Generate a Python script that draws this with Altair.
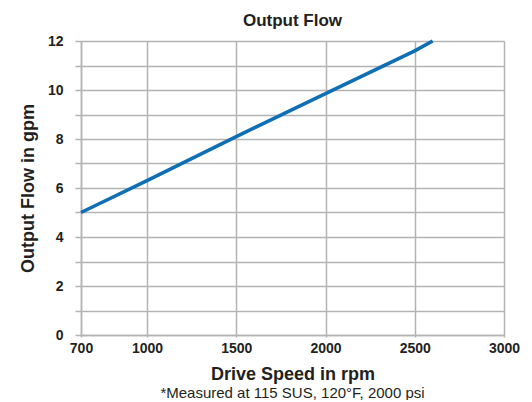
import altair as alt
import pandas as pd

# Data
speed_rpm = [700, 1000, 1500, 2000, 2500, 2600]
flow_gpm = [5.0, 6.3, 8.1, 9.85, 11.6, 12.0]

x_ticks = [700, 1000, 1500, 2000, 2500, 3000]
y_ticks = list(range(0, 13))

title_text = "Output Flow"
x_title = "Drive Speed in rpm"
y_title = "Output Flow in gpm"
note_text = "*Measured at 115 SUS, 120°F, 2000 psi"

df = pd.DataFrame({"speed": speed_rpm, "flow": flow_gpm})

FONT = "Liberation Sans"
TXT = "#231f20"
GRID = "#b3b3b3"
W, H = 423, 294

line = alt.Chart(df).mark_line(color="#0f6fb5", strokeWidth=3.6, strokeCap="butt").encode(
    x=alt.X(
        "speed:Q",
        scale=alt.Scale(domain=[700, 1000, 3000], range=[0, 66, W], nice=False),
        axis=alt.Axis(
            values=x_ticks,
            format="d",
            title=x_title,
            grid=True,
            gridColor=GRID,
            gridWidth=1.5,
            domainColor=GRID,
            domainWidth=1.5,
            tickColor=GRID,
            tickWidth=1.5,
            tickSize=2,
            labelPadding=4,
            labelFont=FONT,
            labelFontSize=14,
            labelFontWeight="bold",
            labelColor=TXT,
            labelFlush=False,
            titleFont=FONT,
            titleFontSize=18,
            titleFontWeight="bold",
            titleColor=TXT,
            titlePadding=10,
        ),
    ),
    y=alt.Y(
        "flow:Q",
        scale=alt.Scale(domain=[0, 12], nice=False),
        axis=alt.Axis(
            values=y_ticks,
            labelExpr="datum.value % 2 == 0 ? datum.label : ''",
            title=y_title,
            grid=True,
            gridColor=GRID,
            gridWidth=1.5,
            domainColor=GRID,
            domainWidth=1.5,
            tickColor=GRID,
            tickWidth=1.5,
            tickSize=6,
            labelPadding=12,
            labelFont=FONT,
            labelFontSize=14,
            labelFontWeight="bold",
            labelColor=TXT,
            labelFlush=False,
            titleFont=FONT,
            titleFontSize=18,
            titleFontWeight="bold",
            titleColor=TXT,
            titlePadding=10,
        ),
    ),
)

note = alt.Chart(pd.DataFrame({"t": [note_text]})).mark_text(
    font=FONT, fontSize=15, color=TXT, baseline="middle", align="center"
).encode(
    x=alt.value(W / 2),
    y=alt.value(H + 58),
    text="t:N",
)

chart = alt.layer(line, note).properties(
    width=W,
    height=H,
    autosize=alt.AutoSizeParams(type="none"),
    padding={"left": 73, "top": 33, "right": 20, "bottom": 65},
    title=alt.TitleParams(
        title_text, font=FONT, fontSize=17, fontWeight="bold", color=TXT,
        anchor="middle", offset=4,
    ),
).configure_view(strokeWidth=0).configure(background="white")

chart.save("out.html", embed_options={"renderer": "svg", "actions": False})
